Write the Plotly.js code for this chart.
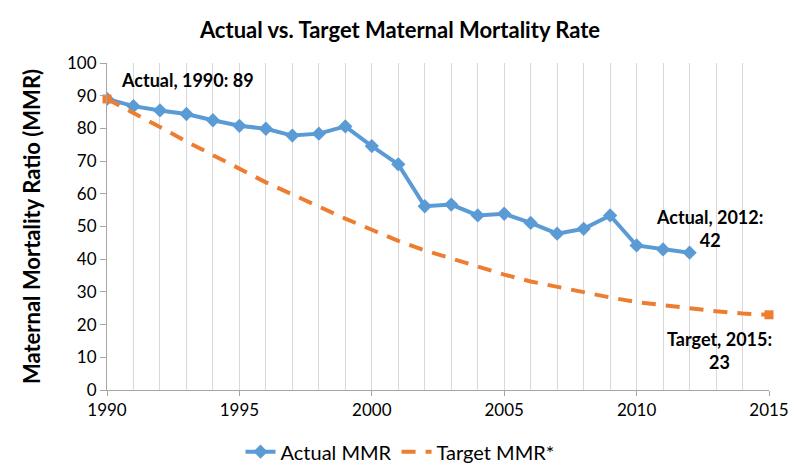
<!DOCTYPE html>
<html>
<head>
<meta charset="utf-8">
<script src="https://cdn.plot.ly/plotly-3.0.1.min.js"></script>
<style>html,body{margin:0;padding:0;background:#fff;}#chart{width:800px;height:473px;}</style>
</head>
<body>
<div id="chart"></div>
<script>
const actualYears = [1990,1991,1992,1993,1994,1995,1996,1997,1998,1999,2000,2001,2002,2003,2004,2005,2006,2007,2008,2009,2010,2011,2012];
const actualMMR = [89,86.8,85.5,84.4,82.5,80.8,79.9,77.8,78.4,80.6,74.6,69,56.2,56.7,53.4,53.9,51.1,47.8,49.3,53.4,44.2,43,42];
const targetYears = [1990,1991,1992,1993,1994,1995,1996,1997,1998,1999,2000,2001,2002,2003,2004,2005,2006,2007,2008,2009,2010,2011,2012,2013,2014,2015];
const targetMMR = [89,84.8,80.4,76,71.8,67.5,63.5,59.8,56,52.4,49,45.6,42.7,40.2,37.6,35.3,33.2,31.5,29.9,28.3,26.9,25.9,24.9,24.1,23.4,23];
const xTicks = [1990,1995,2000,2005,2010,2015];
const yTicks = [0,10,20,30,40,50,60,70,80,90,100];
const seriesNames = ["Actual MMR","Target MMR*"];
const chartTitle = "Actual vs. Target Maternal Mortality Rate";
const yTitle = "Maternal Mortality Ratio (MMR)";

const FONT = "Lato, 'Open Sans', sans-serif";
const BLUE = "#5B9BD5", ORANGE = "#ED7D31";
const lastA = actualYears.length - 1, lastT = targetYears.length - 1;

const traces = [
  {x: actualYears, y: actualMMR, name: seriesNames[0], mode: "lines+markers",
   line: {color: BLUE, width: 4}, marker: {symbol: "diamond", size: 11, color: BLUE}},
  {x: targetYears, y: targetMMR, name: seriesNames[1], mode: "lines",
   line: {color: ORANGE, width: 4, dash: "14px,10px"}},
  {x: [targetYears[0], targetYears[lastT]], y: [targetMMR[0], targetMMR[lastT]], mode: "markers",
   marker: {symbol: "square", size: 9, color: ORANGE}, showlegend: false, hoverinfo: "skip", cliponaxis: false}
];

const layout = {
  width: 800, height: 473,
  margin: {l: 107, r: 31, t: 63, b: 83},
  paper_bgcolor: "#ffffff", plot_bgcolor: "#ffffff",
  font: {family: FONT, color: "#000", size: 17},
  title: {text: "<b>" + chartTitle + "</b>", x: 0.5, xanchor: "center", y: 0.935, yanchor: "middle",
          font: {family: FONT, size: 22, color: "#000"}},
  xaxis: {range: [1990, 2015], tickvals: xTicks, ticktext: xTicks.map(String),
          showgrid: true, gridcolor: "#d9d9d9", gridwidth: 1,
          minor: {dtick: 1, showgrid: true, gridcolor: "#d9d9d9", gridwidth: 1},
          showline: true, linecolor: "#a6a6a6", linewidth: 1,
          ticks: "outside", ticklen: 5, tickcolor: "#a6a6a6", zeroline: false,
          tickfont: {family: FONT, size: 17}},
  yaxis: {range: [0, 100], tickvals: yTicks, showgrid: false, zeroline: false,
          showline: true, linecolor: "#a6a6a6", linewidth: 1,
          ticks: "outside", ticklen: 6, tickcolor: "#a6a6a6",
          tickfont: {family: FONT, size: 17},
          title: {text: "<b>" + yTitle + "</b>", standoff: 20, font: {family: FONT, size: 22}}},
  legend: {orientation: "h", x: 0.5, xanchor: "center", xref: "container", yref: "container", y: 0.045, yanchor: "middle",
           font: {family: FONT, size: 20}, bgcolor: "rgba(0,0,0,0)", traceorder: "normal", itemwidth: 30},
  annotations: [
    {x: actualYears[0], y: actualMMR[0], xref: "x", yref: "y", text: "<b>Actual, " + actualYears[0] + ": " + actualMMR[0] + "</b>",
     showarrow: false, xanchor: "left", yanchor: "middle", xshift: 12, yshift: 19, font: {family: FONT, size: 18}},
    {x: actualYears[lastA], y: actualMMR[lastA], xref: "x", yref: "y", text: "<b>Actual, " + actualYears[lastA] + ":<br>" + actualMMR[lastA] + "</b>",
     showarrow: false, xanchor: "center", yanchor: "middle", xshift: 20, yshift: 24, align: "center", font: {family: FONT, size: 18}},
    {x: targetYears[lastT], y: targetMMR[lastT], xref: "x", yref: "y", text: "<b>Target, " + targetYears[lastT] + ":<br>" + targetMMR[lastT] + "</b>",
     showarrow: false, xanchor: "center", yanchor: "middle", xshift: -50, yshift: -36, align: "center", font: {family: FONT, size: 18}}
  ]
};

Plotly.newPlot("chart", traces, layout, {displayModeBar: false, staticPlot: true});
</script>
</body>
</html>
